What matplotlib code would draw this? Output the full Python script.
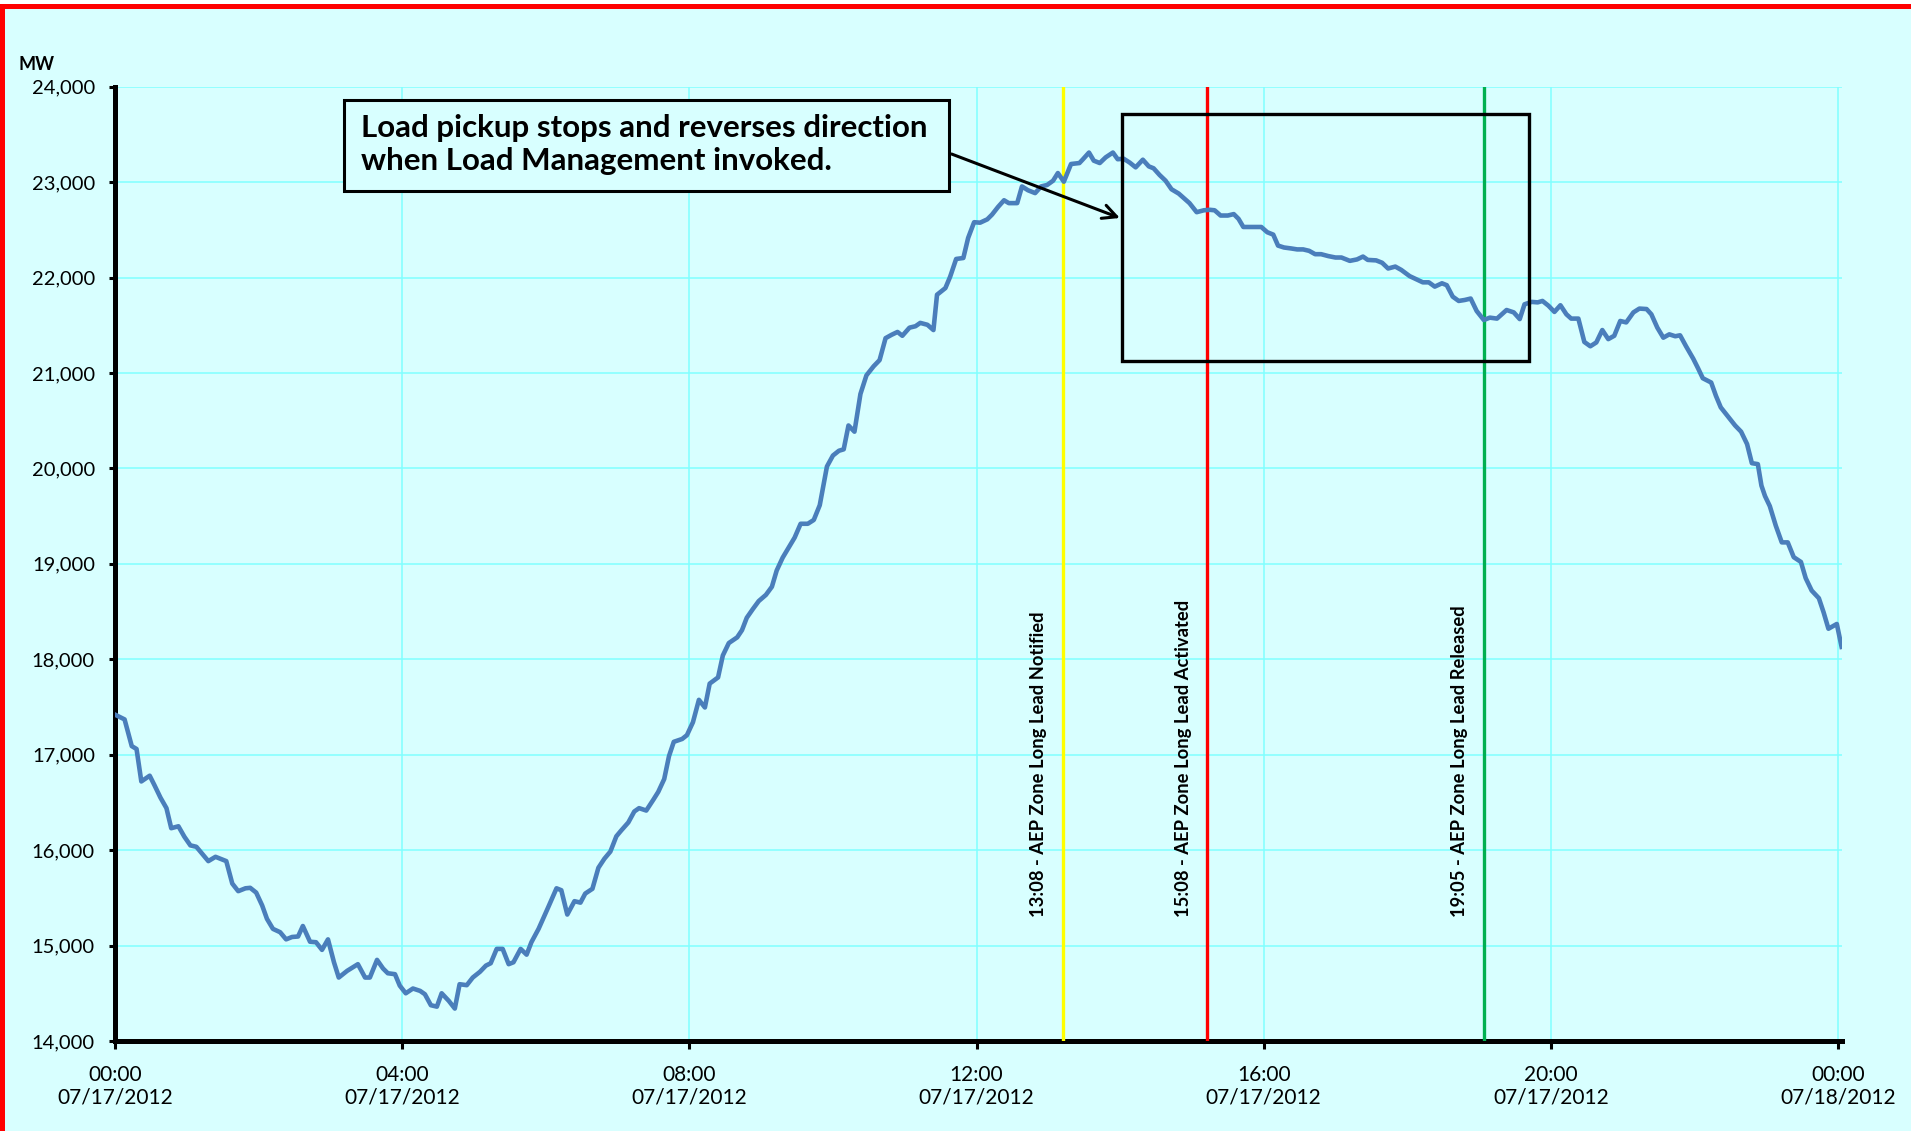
import matplotlib
matplotlib.use('Agg')
import matplotlib.pyplot as plt
from matplotlib.patches import Rectangle

# AEP zone load, 07/17/2012 (minutes after midnight, MW)
load_minutes = [0, 8, 14, 18, 22, 29, 33, 38, 43, 47, 53, 58, 63, 68, 72, 78, 84, 93, 98, 103,
                109, 113, 118, 123, 127, 132, 138, 143, 148, 153, 157, 163, 168, 173, 178, 183, 187, 194, 203, 209,
                213, 219, 224, 228, 234, 238, 243, 249, 255, 259, 264, 269, 273, 279, 284, 288, 294, 299, 305, 310,
                314, 319, 324, 329, 333, 339, 344, 348, 354,
                362, 369, 373, 378, 384, 389, 393, 399, 404, 409, 414, 419, 423, 429, 434, 438, 444, 450, 454, 459,
                463, 467, 474, 478, 483, 488, 493, 497, 504, 508, 513, 520, 524, 528, 533, 538, 544, 549, 553, 558,
                563, 568, 573, 579, 584, 589, 592, 595, 600, 605, 609, 613, 618, 623, 628, 634, 639, 644, 649, 654,
                658, 664, 669, 673, 679, 684, 687, 694, 698, 703, 709, 713, 718,
                723, 729, 733, 738, 743, 747, 754, 758, 763, 769, 774, 779, 784, 788, 793, 799, 806, 809, 814, 818,
                823, 828, 834, 838, 843, 848, 853, 859, 864, 868, 873, 878, 883, 889, 894, 898, 904, 910, 915, 919,
                924, 930, 935, 939, 943, 949, 954, 958, 963, 968, 972, 977, 983, 988, 993, 998, 1003, 1008, 1014, 1020,
                1025, 1032, 1038, 1043, 1047, 1054, 1059, 1064, 1070, 1075, 1082,
                1093, 1098, 1103, 1109, 1113, 1118, 1123, 1128, 1133, 1138, 1144, 1149, 1155, 1163, 1169, 1174, 1178, 1184, 1189, 1193,
                1198, 1203, 1208, 1213, 1217, 1223, 1228, 1233, 1238, 1243, 1248, 1253, 1258, 1263, 1269, 1274, 1280, 1284, 1289, 1294,
                1299, 1304, 1308, 1313, 1319, 1323, 1327, 1334, 1338, 1342, 1348, 1354, 1359, 1364, 1368, 1373, 1376, 1379, 1383, 1388,
                1393, 1398, 1403, 1409, 1413, 1418, 1424, 1428, 1432, 1439, 1443]
load_mw = [17420, 17370, 17090, 17060, 16720, 16780, 16680, 16550, 16440, 16230, 16250, 16140, 16050, 16035, 15975, 15885, 15930, 15885, 15650, 15570,
           15600, 15605, 15555, 15420, 15280, 15175, 15140, 15065, 15090, 15095, 15205, 15040, 15035, 14955, 15065, 14825, 14665, 14735, 14805, 14665,
           14665, 14850, 14760, 14710, 14700, 14580, 14500, 14550, 14525, 14490, 14375, 14360, 14500, 14420, 14340, 14595, 14585, 14665, 14725, 14790,
           14815, 14965, 14965, 14805, 14825, 14965, 14905, 15035, 15175,
           15400, 15600, 15580, 15325, 15465, 15450, 15545, 15595, 15815, 15910, 15985, 16145, 16205, 16290, 16405, 16440, 16415, 16530, 16610, 16745,
           16985, 17135, 17165, 17205, 17340, 17575, 17495, 17745, 17810, 18040, 18170, 18230, 18305, 18435, 18525, 18610, 18675, 18760, 18930, 19065,
           19170, 19275, 19420, 19420, 19460, 19615, 19815, 20020, 20135, 20185, 20200, 20450, 20385, 20780, 20975, 21070, 21135, 21365, 21400, 21430,
           21390, 21475, 21490, 21525, 21505, 21450, 21820, 21890, 22010, 22195, 22205, 22415, 22580,
           22575, 22610, 22660, 22740, 22810, 22780, 22780, 22955, 22915, 22885, 22955, 22970, 23015, 23095, 23005, 23190, 23200, 23240, 23310, 23225,
           23200, 23260, 23310, 23240, 23245, 23205, 23155, 23235, 23165, 23145, 23075, 23015, 22925, 22880, 22825, 22780, 22685, 22705, 22710, 22705,
           22650, 22650, 22665, 22615, 22530, 22530, 22530, 22530, 22475, 22450, 22335, 22315, 22305, 22295, 22295, 22280, 22245, 22245, 22225, 22210,
           22210, 22175, 22190, 22220, 22185, 22180, 22155, 22095, 22115, 22080, 22015,
           21950, 21950, 21905, 21940, 21920, 21800, 21755, 21765, 21780, 21650, 21555, 21580, 21570, 21660, 21635, 21565, 21720, 21745, 21740, 21755,
           21705, 21640, 21710, 21615, 21570, 21570, 21325, 21280, 21320, 21450, 21355, 21390, 21545, 21530, 21635, 21675, 21670, 21615, 21475, 21370,
           21405, 21385, 21395, 21280, 21150, 21050, 20945, 20900, 20760, 20640, 20545, 20450, 20385, 20255, 20055, 20045, 19820, 19710, 19605, 19400,
           19225, 19225, 19070, 19020, 18850, 18720, 18640, 18490, 18320, 18370, 18130]

tick_minutes = [0, 240, 480, 720, 960, 1200, 1440]
tick_labels = ['00:00\n07/17/2012', '04:00\n07/17/2012', '08:00\n07/17/2012', '12:00\n07/17/2012',
               '16:00\n07/17/2012', '20:00\n07/17/2012', '00:00\n07/18/2012']
y_ticks = [14000, 15000, 16000, 17000, 18000, 19000, 20000, 21000, 22000, 23000, 24000]

event_minutes = [792, 913, 1144]
event_labels = ['13:08 - AEP Zone Long Lead Notified',
                '15:08 - AEP Zone Long Lead Activated',
                '19:05 - AEP Zone Long Lead Released']
event_colors = ['#FFFF00', '#FF0000', '#00B050']

note_text = 'Load pickup stops and reverses direction\nwhen Load Management invoked.'

bg = '#D8FFFF'
grid_col = '#80FFFF'

plt.rcParams['font.family'] = ['Lato', 'DejaVu Sans']

fig = plt.figure(figsize=(19.11, 11.31), dpi=100, facecolor=bg)
ax = fig.add_axes([115 / 1911, 90 / 1131, 1726.6 / 1911, 954.3 / 1131])
ax.set_facecolor(bg)

ax.plot(load_minutes, load_mw, color='#4A7EBB', lw=3.3, zorder=4, solid_joinstyle='round')

ax.set_xlim(0, 1443)
ax.set_ylim(14000, 24000)
ax.set_xticks(tick_minutes)
ax.set_xticklabels(tick_labels, fontsize=15, linespacing=1.15)
ax.set_yticks(y_ticks)
ax.set_yticklabels(['{:,}'.format(v) for v in y_ticks], fontsize=14.5)
ax.grid(True, color=grid_col, lw=1.1, zorder=0)
ax.set_axisbelow(True)

for side in ['top', 'right']:
    ax.spines[side].set_visible(False)
for side in ['left', 'bottom']:
    ax.spines[side].set_linewidth(3.6)
    ax.spines[side].set_color('black')
ax.tick_params(axis='y', length=4.5, width=2.2, pad=10, direction='out')
ax.tick_params(axis='x', length=6, width=2.2, pad=11, direction='out')

# event lines and their labels
for m, lab, col in zip(event_minutes, event_labels, event_colors):
    ax.axvline(m, color=col, lw=2.4, zorder=3)
    ax.text(m - 20, 15300, lab, rotation=90, ha='center', va='bottom',
            fontsize=13.2, fontweight='bold', zorder=5)

# boxed note with arrow
ax.add_patch(Rectangle((191, 22907), 506, 954, facecolor=bg, edgecolor='black', lw=2.2, zorder=6))
ax.text(206, 23390, note_text, ha='left', va='center', fontsize=22.5, fontweight='bold',
        linespacing=1.22, zorder=7)
ax.add_patch(Rectangle((842, 21126), 340, 2588, facecolor='none', edgecolor='black', lw=2.4, zorder=6))
ax.annotate('', xy=(842, 22614), xytext=(697, 23305),
            arrowprops=dict(arrowstyle='->', color='black', lw=2.2, mutation_scale=25), zorder=7)

fig.text(19 / 1911, 1 - 64 / 1131, 'MW', fontsize=13, fontweight='bold', ha='left', va='center')

# red frame on top and left edge
fig.add_artist(Rectangle((0, 1 - 3.5 / 1131), 1, 3.5 / 1131, transform=fig.transFigure,
                         facecolor='white', edgecolor='none'))
fig.add_artist(Rectangle((0, 1 - 8.5 / 1131), 1, 5 / 1131, transform=fig.transFigure,
                         facecolor='#FF0000', edgecolor='none'))
fig.add_artist(Rectangle((0, 0), 5 / 1911, 1 - 3.5 / 1131, transform=fig.transFigure,
                         facecolor='#FF0000', edgecolor='none'))

fig.savefig('out.png', dpi=100, facecolor=bg)
